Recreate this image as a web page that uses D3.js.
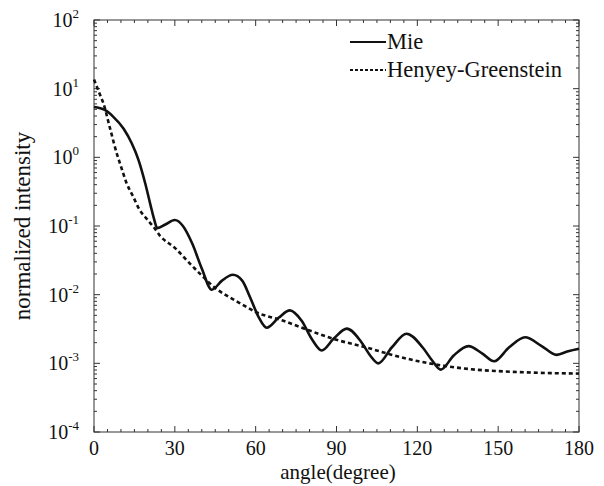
<!DOCTYPE html>
<html>
<head>
    <title>Mie vs Henyey-Greenstein</title>
    <script src="https://d3js.org/d3.v7.min.js"></script>
    <style>
        body {
            margin: 0;
            padding: 0;
            background: #fff;
            overflow: hidden;
        }
    </style>
</head>
<body>
    <div id="chart"></div>
    <script>
        // angle (deg) / normalized intensity
        const mieAngle = [0, 4, 7, 11, 14, 16.5, 19, 21, 22.2, 23.5, 26.5, 30, 33, 36.5, 40, 43.7,
            47.5, 51.5, 55, 58, 61, 64.1, 68.5, 72.7, 77, 81, 84.5, 89, 93.8, 99, 102.5, 105.5,
            110.5, 116, 122, 125.5, 128.7, 133.5, 139, 144, 148.5, 154, 160, 166, 171.7, 176, 180];
        const mieValue = [5.4, 4.9, 3.95, 2.6, 1.6, 0.92, 0.42, 0.2, 0.13, 0.093, 0.105, 0.122, 0.1, 0.055, 0.024, 0.0118,
            0.016, 0.0195, 0.016, 0.009, 0.0048, 0.0033, 0.0046, 0.0059, 0.0042, 0.0022, 0.00154, 0.0023, 0.0032, 0.0021, 0.0013, 0.0010,
            0.0017, 0.0027, 0.0017, 0.0011, 0.00081, 0.0013, 0.00178, 0.0014, 0.00107, 0.0017, 0.0024, 0.0018, 0.00133, 0.0015, 0.00163];

        const hgAngle = [0, 2, 3.5, 6, 8.5, 10, 12, 14.5, 17, 19.5, 22, 24.5, 30, 35, 40, 45, 50, 55, 60,
            70, 80, 90, 100, 110, 120, 130, 140, 150, 160, 170, 180];
        const hgValue = [13.6, 8.6, 6.1, 2.6, 1.12, 0.74, 0.43, 0.27, 0.17, 0.128, 0.098, 0.072, 0.048, 0.030, 0.019, 0.0125, 0.0093, 0.0072, 0.0056,
            0.0042, 0.0030, 0.0022, 0.00175, 0.00135, 0.00108, 0.00092, 0.00082, 0.00077, 0.00074, 0.00072, 0.00071];

        const xTicks = [0, 30, 60, 90, 120, 150, 180];
        const yExponents = [-4, -3, -2, -1, 0, 1, 2];
        const legendNames = ['Mie', 'Henyey-Greenstein'];

        const width = 604, height = 486;
        const margin = { left: 94, right: 25, top: 20, bottom: 54 };

        const svg = d3.select('#chart').append('svg')
            .attr('width', width)
            .attr('height', height);

        // serif font set on each text element
        function serif(sel, size) {
            return sel.style('font-family', '"Liberation Serif"')
                .style('font-size', size + 'px')
                .attr('fill', '#111');
        }

        const x = d3.scaleLinear().domain([0, 180]).range([margin.left, width - margin.right]);
        const y = d3.scaleLog().domain([1e-4, 1e2]).range([height - margin.bottom, margin.top]);

        // minor ticks
        const xMinor = d3.range(0, 181, 5);
        const yMinor = [];
        yExponents.slice(0, -1).forEach(e => {
            for (let k = 2; k <= 9; k++) yMinor.push(k * Math.pow(10, e));
        });

        const axes = svg.append('g').attr('stroke', '#333').attr('stroke-width', 1);

        // bottom / top
        [y.range()[0], y.range()[1]].forEach((yy, i) => {
            const dir = i === 0 ? -1 : 1;
            axes.selectAll(null).data(xMinor).join('line')
                .attr('x1', d => x(d)).attr('x2', d => x(d))
                .attr('y1', yy)
                .attr('y2', d => yy + dir * (d % 30 === 0 ? 6 : 3));
        });
        // left / right
        [x.range()[0], x.range()[1]].forEach((xx, i) => {
            const dir = i === 0 ? 1 : -1;
            axes.selectAll(null).data(yMinor).join('line')
                .attr('y1', d => y(d)).attr('y2', d => y(d))
                .attr('x1', xx).attr('x2', xx + dir * 3);
            axes.selectAll(null).data(yExponents).join('line')
                .attr('y1', d => y(Math.pow(10, d))).attr('y2', d => y(Math.pow(10, d)))
                .attr('x1', xx).attr('x2', xx + dir * 6);
        });

        axes.append('rect')
            .attr('x', x.range()[0]).attr('y', y.range()[1])
            .attr('width', x.range()[1] - x.range()[0])
            .attr('height', y.range()[0] - y.range()[1])
            .attr('fill', 'none');

        // tick labels
        svg.append('g').selectAll('text').data(xTicks).join('text')
            .attr('x', d => x(d))
            .attr('y', y.range()[0] + 23)
            .attr('text-anchor', 'middle')
            .call(serif, 20)
            .text(d => d);

        const yl = svg.append('g').selectAll('text').data(yExponents).join('text')
            .attr('x', 79)
            .attr('y', d => y(Math.pow(10, d)) + 7)
            .attr('text-anchor', 'end')
            .call(serif, 20);
        yl.append('tspan').text('10');
        yl.append('tspan')
            .style('font-size', '13px')
            .attr('dy', -9)
            .text(d => d);

        // axis titles
        svg.append('text')
            .attr('x', 338)
            .attr('y', 479)
            .attr('text-anchor', 'middle')
            .call(serif, 21)
            .text('angle(degree)');

        svg.append('text')
            .attr('transform', `translate(30,${(y.range()[0] + y.range()[1]) / 2}) rotate(-90)`)
            .attr('text-anchor', 'middle')
            .call(serif, 23)
            .text('normalized intensity');

        // curves
        const line = d3.line()
            .x(d => x(d[0]))
            .y(d => y(d[1]))
            .curve(d3.curveMonotoneX);

        const mie = mieAngle.map((a, i) => [a, mieValue[i]]);
        const hg = hgAngle.map((a, i) => [a, hgValue[i]]);

        svg.append('path')
            .datum(hg)
            .attr('d', line)
            .attr('fill', 'none')
            .attr('stroke', '#111')
            .attr('stroke-width', 2.6)
            .attr('stroke-dasharray', '4,3');

        svg.append('path')
            .datum(mie)
            .attr('d', line)
            .attr('fill', 'none')
            .attr('stroke', '#111')
            .attr('stroke-width', 2.6);

        // legend
        const legend = svg.append('g').attr('transform', 'translate(350,42)');
        legendNames.forEach((name, i) => {
            const row = legend.append('g').attr('transform', `translate(0,${i * 28})`);
            row.append('line')
                .attr('x1', 0).attr('x2', 36)
                .attr('stroke', '#111')
                .attr('stroke-width', 1.8)
                .attr('stroke-dasharray', i === 1 ? '3,2' : null);
            row.append('text')
                .attr('x', 37)
                .attr('y', 7)
                .call(serif, 22.5)
                .text(name);
        });
    </script>
</body>
</html>
